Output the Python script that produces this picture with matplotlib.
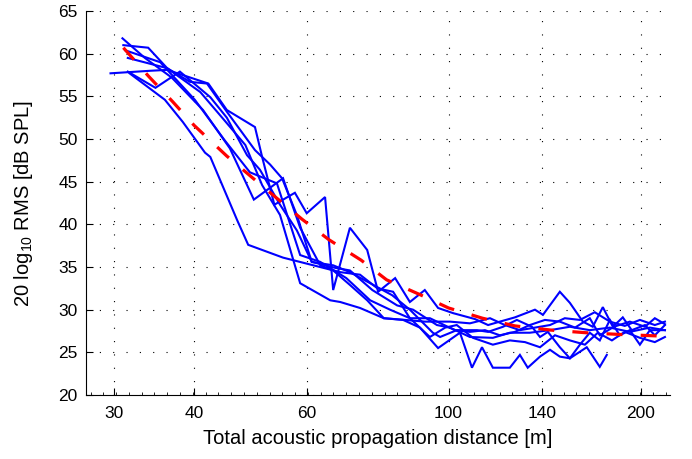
import numpy as np
import matplotlib
matplotlib.use("Agg")
import matplotlib.pyplot as plt
from matplotlib.ticker import NullFormatter

plt.rcParams['font.family'] = ['Liberation Sans', 'DejaVu Sans']
plt.rcParams['mathtext.fontset'] = 'custom'
plt.rcParams['mathtext.rm'] = 'Liberation Sans'

# measured RMS levels per track: distance [m], level [dB SPL]
d1 = [30.9, 33.5, 36.9, 41.3, 45.5, 49.6, 55.1, 58.6, 63.0, 66.0, 70.1, 74.6, 79.2, 84.9, 90.2,
      96.3, 104.2, 108.8, 112.8, 117.3, 124.7, 129.3, 133.0, 139.0, 144.1, 149.3, 154.8, 164.5,
      172.4, 176.8]
v1 = [61.8, 59.5, 57.2, 53.4, 48.9, 42.9, 45.4, 39.6, 35.2, 34.6, 32.9, 31.1, 29.0, 28.8, 27.9,
      25.5, 27.3, 23.2, 25.6, 23.2, 23.2, 24.7, 23.2, 24.5, 25.3, 24.5, 24.3, 25.6, 23.3, 24.7]

d2 = [29.6, 34.2, 36.3, 42.1, 45.0, 49.8, 51.1, 53.4, 57.5, 60.0, 64.1, 66.0, 70.1, 74.6, 77.6,
      82.5, 87.0, 91.8, 96.3, 101.6, 110.0, 115.3, 120.3, 127.0, 136.5, 140.5, 149.3, 154.8,
      162.2, 168.1, 174.3, 180.7, 187.3, 193.4, 202.9, 210.2, 218.0]
v2 = [57.7, 58.0, 58.1, 56.5, 53.4, 51.4, 47.9, 42.3, 43.7, 41.3, 43.2, 32.3, 39.6, 37.0, 32.1,
      33.7, 30.9, 32.3, 30.2, 29.6, 28.9, 28.2, 28.6, 29.1, 30.0, 29.4, 32.1, 30.8,
      28.6, 28.0, 30.3, 28.0, 29.1, 27.6, 28.2, 27.0, 28.2]

d3 = [31.0, 33.9, 36.3, 39.4, 41.9, 45.0, 49.8, 52.6, 54.9, 57.9, 61.1, 66.0, 70.1, 75.4, 81.6,
      87.0, 94.5, 97.0, 103.0, 110.8, 115.3, 121.7, 127.9, 135.0, 139.0, 143.0, 149.3, 154.8,
      160.5, 166.3, 172.4, 178.8, 185.3, 192.1, 199.2, 206.5, 218.0]
v3 = [61.0, 60.7, 58.3, 56.7, 56.5, 53.2, 48.7, 47.0, 45.4, 41.1, 35.6, 35.2, 34.4, 33.1, 31.7,
      30.0, 27.3, 26.8, 27.6, 27.6, 27.4, 28.0, 28.8, 28.0, 26.8, 27.4, 25.6, 24.3,
      25.9, 27.3, 26.4, 28.8, 27.0, 27.6, 25.9, 27.6, 27.6]

d4 = [31.5, 34.8, 38.0, 42.4, 45.0, 48.4, 50.7, 54.5, 57.9, 61.1, 66.5, 70.1, 76.0, 83.1, 88.0,
      95.9, 100.5, 108.0, 117.3, 124.7, 134.0, 144.1, 154.8, 166.3, 178.8, 192.1, 206.5, 218.0]
v4 = [57.9, 56.0, 57.9, 54.9, 52.5, 48.1, 46.4, 42.3, 39.3, 35.6, 34.9, 34.6, 32.3, 30.5, 30.0,
      28.2, 27.9, 26.8, 26.7, 27.3, 27.3, 27.6, 28.0, 27.6, 27.9, 27.4, 27.9, 27.6]

d5 = [31.7, 36.0, 38.4, 41.6, 42.4, 46.7, 48.6, 55.1, 67.7, 72.7, 77.4, 81.9, 87.0, 93.5, 98.8,
      103.0, 109.2, 117.3, 124.7, 131.7, 139.0, 146.7, 154.8, 163.4, 171.2, 180.1, 188.6, 199.2,
      210.2, 218.0]
v5 = [57.7, 54.6, 52.0, 48.4, 47.9, 40.5, 37.6, 36.1, 34.4, 34.1, 32.5, 32.1, 29.0, 26.8, 27.9,
      28.2, 26.7, 25.9, 26.4, 26.2, 25.6, 27.0, 26.4, 25.9, 27.3, 26.4, 27.4, 26.7,
      26.2, 26.8]

d6 = [31.5, 36.3, 40.9, 44.6, 48.1, 51.1, 54.5, 58.6, 65.3, 67.7, 72.7, 79.2, 85.5, 91.8, 100.5,
      108.0, 116.1, 122.5, 129.3, 136.5, 144.1, 152.0, 160.5, 169.3, 178.8, 188.6, 199.2, 210.2,
      218.0]
v6 = [59.5, 58.3, 55.5, 52.2, 49.3, 44.6, 41.1, 33.1, 31.1, 30.9, 30.2, 29.0, 28.8, 28.6, 28.6,
      28.4, 29.0, 28.2, 27.6, 27.9, 28.2, 29.0, 28.8, 29.7, 28.6, 28.1, 28.8, 28.2, 28.6]

d7 = [31.2, 35.4, 40.1, 44.6, 48.9, 53.9, 58.6, 63.0, 69.2, 75.4, 81.0, 87.0, 93.5, 102.3, 108.0,
      114.0, 120.3, 127.0, 134.0, 141.5, 149.3, 157.7, 166.3, 172.4, 181.4, 192.1, 202.9, 210.2,
      218.0]
v7 = [60.4, 59.0, 54.6, 49.9, 46.1, 44.8, 36.4, 35.6, 33.7, 31.1, 30.0, 29.0, 29.0, 27.6, 27.4,
      27.6, 27.0, 27.4, 28.2, 28.8, 28.6, 27.9, 29.0, 27.0, 28.0, 28.6, 28.0, 29.0, 28.3]

# fitted trend
fit_d = [31, 34, 37, 40, 45, 50, 55, 59, 65, 73, 80, 90, 100, 113, 127, 145, 164, 185, 216]
fit_v = [60.7, 57.3, 54.4, 51.6, 48.0, 45.1, 42.5, 40.6, 38.2, 35.8, 33.5, 31.8, 30.2, 29.0, 28.1,
         27.6, 27.3, 27.1, 26.9]

xticks = [30, 40, 60, 100, 140, 200]

fig = plt.figure(figsize=(6.92, 4.59), dpi=100)
ax = fig.add_axes([0.1243, 0.1394, 0.8439, 0.8366])

for d, v in [(d1, v1), (d2, v2), (d3, v3), (d4, v4), (d5, v5), (d6, v6), (d7, v7)]:
    ax.plot(d, v, color='#0000ff', lw=1.5, solid_joinstyle='miter')
ax.plot(fit_d, fit_v, color='#ff0000', lw=2.3, linestyle=(0, (5.0, 5.7)))

ax.set_xscale('log')
ax.set_xlim(27.1, 222)
ax.set_ylim(20, 65)
ax.set_xticks(xticks)
ax.set_xticklabels([str(t) for t in xticks])
ax.set_xticks(10 ** np.arange(1.44, 2.35, 0.02), minor=True)
ax.xaxis.set_minor_formatter(NullFormatter())
ax.set_yticks(np.arange(20, 66, 5))
ax.tick_params(which='major', direction='in', length=5, width=0.8, labelsize=12.5, pad=6)
ax.tick_params(axis='x', which='major', pad=8)
ax.tick_params(which='minor', direction='in', length=2.5, width=0.6)
ax.tick_params(axis='y', which='minor', left=False)
ax.spines['top'].set_visible(False)
ax.spines['right'].set_visible(False)
ax.grid(True, which='major', color='black', lw=0.8, linestyle=(0, (1, 11)))

ax.set_xlabel('Total acoustic propagation distance [m]', fontsize=14.5, labelpad=6)
ax.set_ylabel(r'20 log$_{10}$ RMS [dB SPL]', fontsize=14.5, labelpad=17)

fig.savefig('out.png', dpi=100)
